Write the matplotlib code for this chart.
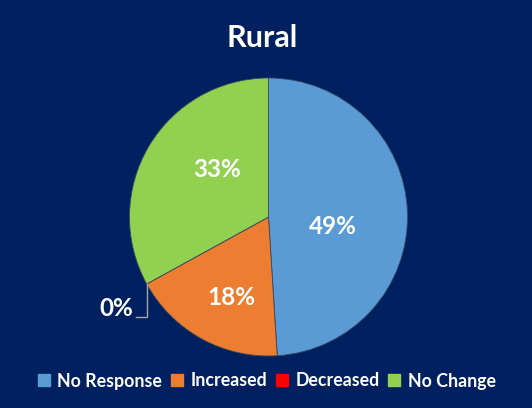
import numpy as np
import matplotlib
matplotlib.use("Agg")
import matplotlib.pyplot as plt
from matplotlib.lines import Line2D

plt.rcParams['font.family'] = ['Lato', 'DejaVu Sans']

# Survey shares for the rural group
categories = ["No Response", "Increased", "Decreased", "No Change"]
shares = [49, 18, 0, 33]
labels = ["49%", "18%", "0%", "33%"]
colors = ["#5B9BD5", "#ED7D31", "#FF0000", "#92D050"]
title = "Rural"

BG = "#002060"
W, H, DPI = 532, 408, 100

fig = plt.figure(figsize=(W / DPI, H / DPI), dpi=DPI, facecolor=BG)

# Pie axes placed by pixel geometry
cx, cy, r = 268.5, 217.0, 139.0
ax = fig.add_axes([(cx - r) / W, 1 - (cy + r) / H, 2 * r / W, 2 * r / H])
ax.set_facecolor(BG)

wedges, _ = ax.pie(shares, colors=colors, startangle=90, counterclock=False,
                   radius=1.0, wedgeprops=dict(linewidth=0.6, edgecolor="#3a4a60"))
ax.set_xlim(-1, 1)
ax.set_ylim(-1, 1)
ax.set_aspect("equal")
ax.axis("off")

# Label placement: radial fraction and angular nudge (degrees) per slice
label_r = [0.47, 0.64, None, 0.50]
label_dtheta = [-10, 4, 0, -12]
for w, lab, rf, dt in zip(wedges, labels, label_r, label_dtheta):
    if rf is None:
        continue
    mid = np.deg2rad((w.theta1 + w.theta2) / 2 + dt)
    ax.text(rf * np.cos(mid), rf * np.sin(mid), lab, ha="center", va="center",
            color="white", fontsize=17.5, fontweight="bold")

# Zero-share slice: label outside with an elbow leader line
zw = wedges[2]
ang = np.deg2rad(zw.theta1)
ex, ey = np.cos(ang), np.sin(ang)
ly = ey - 0.24
ax.plot([ex, ex, ex - 0.075], [ey, ly, ly], color="#A6A6A6", lw=1.0,
        clip_on=False, solid_joinstyle="miter")
ax.text(ex - 0.10, ly + 0.01, labels[2], ha="right", va="baseline",
        color="white", fontsize=17.5, fontweight="bold")

fig.text(262.5 / W, 1 - 38 / H, title, ha="center", va="center",
         color="white", fontsize=22, fontweight="bold")

handles = [Line2D([], [], marker="s", linestyle="none", markersize=8,
                  markerfacecolor=c, markeredgecolor=c) for c in colors]
leg = fig.legend(handles, categories, loc="center", bbox_to_anchor=(267 / W, 1 - 381 / H),
                 ncol=4, frameon=False, handlelength=0.6, handletextpad=0.46,
                 columnspacing=0.53, prop=dict(size=12.8, weight="bold"))
for t in leg.get_texts():
    t.set_color("white")

fig.savefig("out.png", dpi=DPI, facecolor=BG)
